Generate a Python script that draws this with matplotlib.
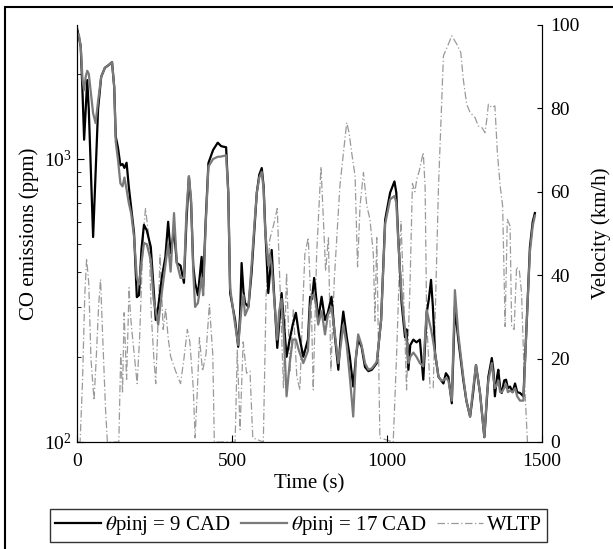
import matplotlib
matplotlib.use("Agg")
import matplotlib.pyplot as plt
from matplotlib.patches import Rectangle
import numpy as np

plt.rcParams['font.family'] = ['Liberation Serif', 'DejaVu Serif']
plt.rcParams['mathtext.fontset'] = 'stix'
plt.rcParams['font.size'] = 15

# CO emissions (ppm) over time, two injection timings
time_co = [0, 6, 12, 18, 23, 28, 33, 38, 45, 52, 60, 68, 78, 90, 103, 113, 120, 125, 132, 140,
           147, 153, 160, 167, 175, 184, 193, 200, 208, 216, 225, 238, 247, 254, 262, 274, 285, 294, 302, 313,
           322, 334, 345, 353, 361, 368, 375, 381, 390, 402, 407, 415, 424, 439, 454, 465, 481, 488, 494, 510,
           520, 526, 531, 537, 542, 553, 563, 572, 580, 588, 596, 602, 607, 617, 622, 628, 636, 646, 652, 660,
           668, 676, 686, 696, 706, 716, 730, 745, 752, 758, 765, 772, 778, 789, 800, 809, 821, 832, 843, 851,
           859, 870, 880, 891, 900, 907, 918, 929, 940, 951, 967, 981, 994, 1010, 1024, 1030, 1036, 1047, 1058, 1063,
           1069, 1075, 1085, 1095, 1106, 1117, 1128, 1135, 1142, 1148, 1155, 1166, 1175, 1182, 1190, 1198, 1209, 1219, 1230, 1246,
           1256, 1268, 1278, 1287, 1300, 1314, 1322, 1327, 1338, 1343, 1348, 1355, 1359, 1365, 1370, 1378, 1384, 1390, 1397, 1405,
           1413, 1420, 1429, 1440, 1451, 1461, 1470, 1477]
co_9cad = [2900, 2700, 2500, 1700, 1170, 1500, 1900, 1500, 900, 530, 900, 1500, 1950, 2100, 2150, 2200, 1800, 1200, 1100, 950,
           960, 930, 970, 800, 670, 548, 325, 330, 480, 585, 560, 489, 350, 270, 300, 383, 450, 600, 465, 560,
           429, 420, 365, 600, 865, 700, 420, 365, 330, 451, 355, 600, 968, 1076, 1142, 1110, 1100, 760, 336, 270,
           217, 280, 429, 340, 310, 300, 395, 560, 760, 880, 929, 800, 576, 336, 390, 477, 330, 215, 260, 336,
           260, 200, 230, 260, 286, 240, 200, 230, 326, 320, 380, 320, 270, 326, 270, 286, 326, 235, 180, 240,
           289, 235, 200, 157, 200, 230, 217, 184, 178, 180, 190, 270, 609, 760, 833, 760, 532, 310, 235, 250,
           180, 220, 230, 225, 230, 166, 286, 320, 374, 300, 206, 170, 165, 161, 175, 170, 137, 300, 230, 166,
           140, 123, 150, 187, 149, 104, 140, 170, 198, 180, 145, 170, 180, 155, 149, 165, 166, 155, 157, 150,
           161, 150, 149, 145, 270, 489, 600, 644]
co_17cad = [2800, 2750, 2500, 1900, 1750, 1950, 2050, 2000, 1700, 1450, 1340, 1600, 1950, 2100, 2150, 2200, 1800, 1150, 1000, 820,
            800, 860, 780, 700, 640, 530, 380, 360, 430, 505, 500, 440, 320, 290, 260, 340, 420, 500, 400, 644,
            430, 380, 380, 650, 870, 720, 400, 300, 310, 380, 330, 580, 940, 1000, 1018, 1020, 1030, 760, 350, 260,
            220, 260, 300, 330, 280, 300, 420, 580, 760, 860, 900, 780, 560, 420, 460, 420, 320, 230, 290, 320,
            230, 145, 190, 230, 230, 210, 190, 210, 300, 330, 330, 300, 260, 290, 240, 280, 300, 240, 190, 220,
            260, 220, 170, 123, 200, 240, 220, 190, 180, 182, 192, 270, 590, 720, 740, 700, 520, 330, 250, 230,
            190, 200, 207, 200, 190, 185, 293, 270, 250, 230, 206, 170, 165, 165, 168, 165, 140, 344, 240, 170,
            140, 123, 155, 187, 149, 104, 145, 165, 190, 170, 155, 160, 165, 150, 150, 155, 160, 150, 152, 150,
            155, 145, 140, 140, 270, 470, 580, 630]

# WLTP vehicle speed (km/h)
time_v = [0, 10, 18, 25, 31, 38, 45, 55, 62, 70, 76, 83, 92, 98, 135, 141, 147, 152, 160, 168,
          173, 178, 186, 194, 202, 210, 216, 221, 232, 240, 248, 254, 262, 268, 278, 286, 294, 302, 318, 334,
          345, 356, 364, 375, 381, 388, 395, 405, 416, 427, 438, 443, 510, 517, 526, 536, 547, 558, 567, 601,
          606, 610, 622, 634, 646, 655, 666, 676, 687, 698, 709, 719, 727, 735, 746, 757, 762, 773, 787, 795,
          802, 811, 819, 830, 848, 870, 878, 886, 897, 905, 913, 924, 935, 945, 956, 961, 967, 972, 977, 1020,
          1031, 1045, 1053, 1063, 1074, 1082, 1090, 1096, 1104, 1112, 1117, 1123, 1128, 1139, 1149, 1155, 1166, 1176, 1182, 1190,
          1198, 1209, 1225, 1238, 1246, 1257, 1268, 1284, 1294, 1306, 1316, 1322, 1327, 1338, 1348, 1356, 1365, 1373, 1381, 1388,
          1397, 1402, 1410, 1418, 1427, 1434, 1442, 1453]
speed_wltp = [0, 0, 15, 35, 44, 38, 20, 10, 20, 33, 39, 25, 8, 0, 0, 21, 12, 31, 15, 37,
              30, 26, 20, 14, 25, 42, 52, 56, 49, 30, 20, 14, 30, 45, 27, 32, 25, 20.5, 17, 14,
              20, 27, 24, 13, 1, 12, 25, 17, 21, 33, 21, 0, 0, 22, 3, 24, 16.5, 17, 1, 0,
              20, 35, 48.6, 52, 56, 37, 13, 40.6, 17, 32, 15.7, 12.5, 30, 45, 49, 29, 12.5, 45, 66, 53,
              41, 49, 17, 39, 61.4, 76.6, 74, 69.4, 63.8, 42, 56.6, 64.6, 56.6, 53.4, 45, 29, 49, 25, 1, 0,
              21, 53, 37, 12.5, 37, 62, 60, 63, 65, 67.8, 69.4, 61, 29, 13, 13, 29, 61, 81, 92.6, 94,
              95.4, 97.4, 95.4, 93.4, 87, 81, 79, 77.8, 75.8, 75.4, 74.2, 77.4, 81, 80.2, 80.6, 69.4, 61.4, 56.6, 27.7, 53.4,
              51.8, 27.7, 27, 42, 41, 35.8, 17, 0]

fig = plt.figure(figsize=(6.13, 5.49), dpi=100)
ax = fig.add_axes([0.1256, 0.1949, 0.7586, 0.7596])
ax2 = ax.twinx()

l1, = ax.plot(time_co, co_9cad, color='black', lw=1.6, label=r'$\theta$pinj = 9 CAD')
l2, = ax.plot(time_co, co_17cad, color='#7a7a7a', lw=1.6, label=r'$\theta$pinj = 17 CAD')
l3, = ax2.plot(time_v, speed_wltp, color='#9a9a9a', lw=0.9, linestyle=(0, (6, 2, 1, 2)), label='WLTP')
ax.set_zorder(ax2.get_zorder() + 1)
ax.patch.set_visible(False)

ax.set_yscale('log')
ax.set_ylim(100, 2975)
ax.set_xlim(0, 1500)
ax2.set_ylim(0, 100)
ax.set_xticks([0, 500, 1000, 1500])
ax2.set_yticks([0, 20, 40, 60, 80, 100])

ax.set_xlabel('Time (s)', labelpad=3)
ax.set_ylabel('CO emissions (ppm)', labelpad=3)
ax2.set_ylabel('Velocity (km/h)', labelpad=8)

for a in (ax, ax2):
    a.spines['top'].set_visible(False)
    a.tick_params(which='both', direction='in', labelsize=14)
ax.tick_params(which='major', length=5)
ax.tick_params(which='minor', length=3)
ax.tick_params(axis='x', pad=8)
ax.tick_params(axis='y', pad=4)
ax2.tick_params(axis='y', pad=6)

fig.legend(handles=[l1, l2, l3], loc='lower center', bbox_to_anchor=(0.487, 0.012), ncol=3,
           frameon=True, fancybox=False, edgecolor='black', handlelength=2.2,
           columnspacing=0.5, handletextpad=0.2, borderpad=0.25, borderaxespad=0, fontsize=15)

# outer border of the figure
fig.patches.append(Rectangle((5 / 613, -0.05), 1.2, 0.987 + 0.05, transform=fig.transFigure,
                             fill=False, edgecolor='black', lw=1.5))

fig.savefig('out.png', dpi=100)
